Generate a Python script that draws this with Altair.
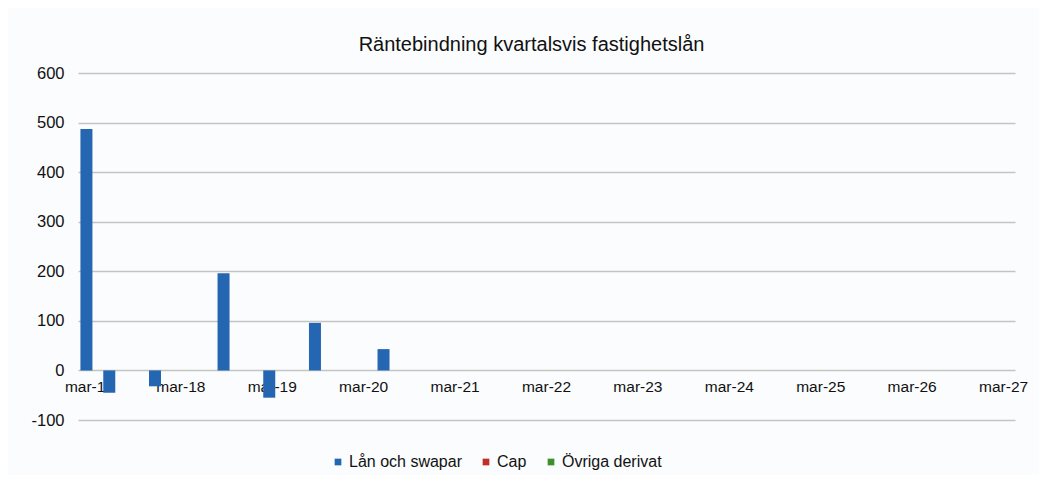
import altair as alt
import pandas as pd

# Quarterly categories mar-17 .. mar-27
months = ["mar", "jun", "sep", "dec"]
years = ["17", "18", "19", "20", "21", "22", "23", "24", "25", "26", "27"]
quarters = [f"{m}-{y}" for y in years for m in months][:41]
tick_labels = ["mar-17", "mar-18", "mar-19", "mar-20", "mar-21", "mar-22",
               "mar-23", "mar-24", "mar-25", "mar-26", "mar-27"]

series_names = ["Lån och swapar", "Cap", "Övriga derivat"]
series_colors = ["#2566b2", "#c0302a", "#3f8f2f"]

bar_periods = ["mar-17", "jun-17", "dec-17", "sep-18", "mar-19", "sep-19", "jun-20"]
bar_values = [487, -45, -32, 196, -55, 96, 43]

df = pd.DataFrame({
    "period": bar_periods,
    "value": bar_values,
    "serie": ["Lån och swapar"] * len(bar_periods),
})

FONT = "Liberation Sans"
W, H = 937, 347

bars = alt.Chart(df).mark_bar(size=12, xOffset=-3).encode(
    x=alt.X("period:N", sort=quarters,
            scale=alt.Scale(domain=quarters, paddingInner=0, paddingOuter=0),
            axis=alt.Axis(labelExpr="indexof(datum.label, 'mar') == 0 ? datum.label : ''",
                          title=None, labelAngle=0,
                          ticks=False, domain=False, grid=False,
                          offset=-50, labelPadding=9, labelAlign="center",
                          labelOverlap=False, labelBound=False, labelFlush=False,
                          labelFont=FONT, labelFontSize=15.5, labelColor="#111")),
    y=alt.Y("value:Q",
            scale=alt.Scale(domain=[-100, 600], nice=False),
            axis=alt.Axis(values=[-100, 0, 100, 200, 300, 400, 500, 600],
                          labelExpr="toString(datum.value)",
                          title=None, ticks=False, domain=False,
                          labelPadding=14, gridColor="#c4c4c4", gridWidth=1.5,
                          labelFont=FONT, labelFontSize=16.5, labelColor="#111")),
    color=alt.Color("serie:N",
                    scale=alt.Scale(domain=series_names, range=series_colors),
                    legend=alt.Legend(title=None, orient="none",
                                      legendX=252, legendY=381,
                                      direction="horizontal",
                                      symbolType="square", symbolSize=45,
                                      symbolStrokeWidth=0,
                                      labelFont=FONT, labelFontSize=16,
                                      labelColor="#111", columnPadding=16,
                                      labelOffset=3)),
).properties(
    width=W, height=H,
    background="#fbfcfd",
    title=alt.TitleParams("Räntebindning kvartalsvis fastighetslån",
                          font=FONT, fontSize=20, fontWeight="normal",
                          color="#111", anchor="middle", offset=10, dx=-15),
    autosize=alt.AutoSizeParams(type="none"),
    padding={"left": 70, "top": 65, "right": 24, "bottom": 55},
).configure_view(stroke=None)

chart = bars
chart.save("out.html", embed_options={"renderer": "svg", "actions": False})
